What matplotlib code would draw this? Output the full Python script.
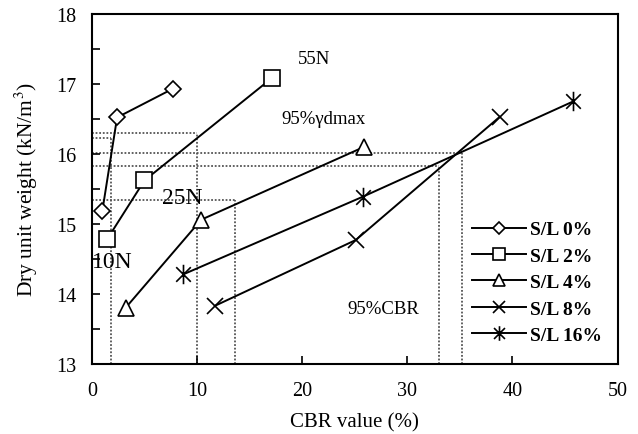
import matplotlib
matplotlib.use("Agg")
from matplotlib import pyplot as plt
from matplotlib.path import Path

plt.rcParams['font.family'] = ['Liberation Serif', 'DejaVu Serif']
plt.rcParams['mathtext.fontset'] = 'stix'

# CBR value (%) and dry unit weight (kN/m3) for each S/L content
sl0_x = [1.0, 2.4, 7.7]
sl0_y = [15.19, 16.52, 16.93]
sl2_x = [1.45, 5.0, 17.1]
sl2_y = [14.78, 15.62, 17.08]
sl4_x = [3.2, 10.4, 25.9]
sl4_y = [13.80, 15.06, 16.10]
sl8_x = [11.7, 25.1, 38.8]
sl8_y = [13.83, 14.77, 16.53]
sl16_x = [8.7, 25.8, 45.8]
sl16_y = [14.28, 15.39, 16.75]
labels = ["S/L 0%", "S/L 2%", "S/L 4%", "S/L 8%", "S/L 16%"]

# 95% reference guide lines: (CBR, dry unit weight)
guides_x = [1.8, 10.0, 13.6, 33.0, 35.2]
guides_y = [16.23, 16.30, 15.34, 15.83, 16.01]

star = Path([(0, -1), (0, 1), (-0.75, -0.75), (0.75, 0.75), (-0.75, 0.75), (0.75, -0.75)],
            [Path.MOVETO, Path.LINETO, Path.MOVETO, Path.LINETO, Path.MOVETO, Path.LINETO])

fig = plt.figure(figsize=(6.38, 4.35), dpi=100)
ax = fig.add_axes([0.144, 0.161, 0.824, 0.805])

for gx, gy in zip(guides_x, guides_y):
    ax.plot([0, gx], [gy, gy], color="#555555", ls=(0, (1, 1)), lw=1.3, zorder=1)
    ax.plot([gx, gx], [13, gy], color="#555555", ls=(0, (1, 1)), lw=1.3, zorder=1)

series = [(sl0_x, sl0_y, "D", 8), (sl2_x, sl2_y, "s", 11), (sl4_x, sl4_y, "^", 11),
          (sl8_x, sl8_y, "x", 12), (sl16_x, sl16_y, star, 14)]
for (xs, ys, mk, ms), lab in zip(series, labels):
    ax.plot(xs, ys, color="black", lw=1.4, marker=mk, ms=ms, mfc="white", mec="black",
            mew=1.2, label=lab, zorder=3)

ax.set_xlim(0, 50)
ax.set_ylim(13, 18)
ax.set_xticks([0, 10, 20, 30, 40, 50])
ax.set_yticks([13, 14, 15, 16, 17, 18])
ax.set_yticks([13.5, 14.5, 15.5, 16.5, 17.5], minor=True)
ax.tick_params(direction="in", length=6, width=1.2, labelsize=14.5, top=False, right=False)
ax.tick_params(axis="y", which="minor", direction="in", length=6, width=1.2)
ax.tick_params(axis="x", pad=12)
ax.tick_params(axis="y", pad=11)
for s in ax.spines.values():
    s.set_linewidth(1.5)

ax.set_xlabel("CBR value (%)", fontsize=15, labelpad=9)
ax.set_ylabel("Dry unit weight (kN/m$^3$)", fontsize=15.5, labelpad=12)

ax.text(19.6, 17.36, "55N", fontsize=13.5, va="center")
ax.text(18.0, 16.5, "95%γdmax", fontsize=13.5, va="center")
ax.text(6.7, 15.38, "25N", fontsize=17, va="center")
ax.text(0.0, 14.47, "10N", fontsize=17, va="center")
ax.text(24.3, 13.79, "95%CBR", fontsize=13.5, va="center")

ax.legend(loc="lower right", bbox_to_anchor=(0.985, 0.035), frameon=False,
          prop={"weight": "bold", "size": 14}, handlelength=2.8, handletextpad=0.2,
          labelspacing=0.45, borderaxespad=0.0, markerscale=0.75)

fig.savefig("out.png", dpi=100)
